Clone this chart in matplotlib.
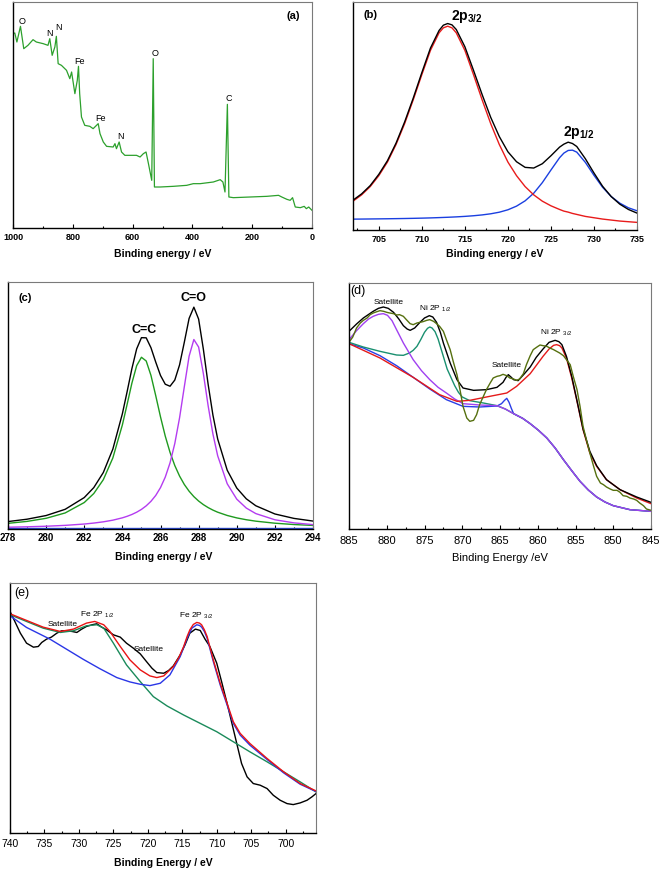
import matplotlib
matplotlib.use('Agg')
import matplotlib.pyplot as plt
from matplotlib.ticker import MultipleLocator

plt.rcParams['font.family'] = ['Liberation Sans', 'DejaVu Sans']
plt.rcParams['mathtext.fontset'] = 'custom'
plt.rcParams['mathtext.rm'] = 'Liberation Sans'
plt.rcParams['mathtext.bf'] = 'Liberation Sans:bold'

# ---------------------------------------------------------
# (a) survey spectrum
# ---------------------------------------------------------
survey_be = [1000, 994, 987, 975, 964, 950, 933, 922, 899, 883, 877, 869, 860, 855, 849,
             838, 821, 810, 804, 793, 785, 781, 777, 771, 760, 743, 732, 715, 709, 698,
             687, 665, 659, 654, 645, 637, 626, 603, 587, 575, 564, 555, 547, 536, 531,
             527, 508, 464, 419, 397, 374, 330, 307, 298, 291, 283, 278, 263, 207, 151,
             112, 101, 84, 73, 65, 56, 39, 26, 19, 11, 0]
survey_counts = [583, 585, 558, 605, 538, 548, 565, 558, 553, 548, 568, 518, 543, 575, 493,
                 488, 473, 448, 468, 403, 443, 485, 403, 333, 308, 305, 298, 313, 283, 258,
                 245, 243, 253, 238, 258, 228, 218, 218, 218, 213, 223, 228, 193, 143, 508,
                 123, 123, 125, 128, 133, 133, 138, 145, 138, 108, 371, 93, 91, 93, 95,
                 98, 93, 86, 83, 91, 63, 61, 65, 58, 63, 53]
survey_labels = ['O', 'N', 'N', 'Fe', 'Fe', 'N', 'O', 'C']
survey_label_be = [970, 877, 849, 777, 709, 642, 525, 280]
survey_label_y = [621, 585, 601, 498, 328, 275, 523, 388]

# ---------------------------------------------------------
# (b) Fe 2p fit
# ---------------------------------------------------------
fe_be = [702, 703, 704, 705, 706, 707, 708, 709, 710, 711, 712, 712.5, 713, 713.5, 714,
         715, 716, 717, 718, 719, 720, 721, 722, 723, 724, 725, 726, 726.5, 727, 727.5,
         728, 729, 730, 731, 732, 733, 734, 735]
fe_2p32 = [87, 106, 131, 164, 205, 258, 321, 393, 469, 542, 595, 610, 615, 610, 595, 542,
           469, 393, 321, 258, 205, 164, 131, 106, 87, 73, 62, 57, 54, 50, 47, 41, 37, 33,
           30, 27, 25, 23]
fe_2p12 = [32.8, 33.0, 33.3, 33.6, 33.9, 34.3, 34.7, 35.2, 35.8, 36.5, 37.4, 37.9, 38.4,
           39.0, 39.6, 41.1, 43.0, 45.5, 48.9, 53.7, 61, 72, 88, 111, 143, 181, 218, 232,
           240, 241, 235, 204, 165, 129, 101, 81, 67, 58]
fe_envelope = [90, 109, 134, 168, 209, 262, 326, 398, 475, 549, 602, 618, 623, 619, 605,
               553, 482, 409, 340, 282, 236, 206, 189, 187, 200, 224, 250, 259, 265, 261,
               252, 215, 172, 132, 101, 78, 62, 51]

# ---------------------------------------------------------
# (c) C 1s fit
# ---------------------------------------------------------
c_be = [278, 279, 280, 281, 282, 282.5, 283, 283.5, 284, 284.25, 284.5, 284.75, 285,
        285.25, 285.5, 285.75, 286, 286.25, 286.5, 286.75, 287, 287.25, 287.5, 287.75,
        288, 288.25, 288.5, 288.75, 289, 289.5, 290, 290.5, 291, 292, 293, 294]
c_cc = [17.0, 22.8, 32.1, 48.2, 79.4, 106.4, 147.9, 213.2, 312.3, 374.2, 437.7, 490,
        515.2, 504, 460.7, 400, 336.4, 278.6, 229.9, 190.4, 158.8, 133.5, 113.4, 97.1,
        83.9, 73.1, 64.2, 56.7, 50.4, 40.6, 33.3, 27.8, 23.5, 17.4, 13.4, 10.7]
c_co = [5.3, 6.6, 8.3, 10.9, 14.9, 17.8, 21.5, 26.5, 33.5, 38.1, 43.6, 50.4, 58.8, 69.5,
        83.1, 100.7, 124.2, 155.7, 198.4, 256.5, 333.5, 427, 518.3, 568.4, 545.8, 465.6,
        369.4, 285, 219.6, 135.7, 89.6, 62.8, 46.2, 27.7, 18.4, 13.1]
c_envelope = [22.3, 29.4, 40.4, 59.1, 94.3, 124.2, 169.4, 239.7, 345.8, 412.3, 481.3,
              540.4, 574, 573.5, 543.8, 500.7, 460.6, 434.3, 428.3, 446.9, 492.3, 560.5,
              631.7, 665.5, 629.7, 538.7, 433.6, 341.7, 270, 176.3, 122.9, 90.6, 69.7,
              45.1, 31.8, 23.8]
c_base_be = [278, 294]
c_base = [3, 3]

# ---------------------------------------------------------
# (d) Ni 2p
# ---------------------------------------------------------
ni_raw_be = [885, 884.5, 884.0, 883.5, 883.1, 882.6, 882.2, 881.8, 881.3, 880.9, 880.4,
             880.0, 879.6, 879.1, 878.7, 878.3, 877.8, 877.4, 876.9, 876.5, 876.0, 875.6,
             875.2, 874.7, 874.3, 873.8, 873.4, 873.0, 872.5, 872.1, 871.6, 871.2, 870.7,
             870.3, 869.9, 869.4, 869.0, 868.5, 868.1, 867.7, 867.2, 866.8, 866.3, 865.9,
             865.4, 865.0, 864.6, 864.1, 863.7, 863.2, 862.8, 862.4, 861.9, 861.5, 861.0,
             860.6, 860.1, 859.7, 859.3, 858.8, 858.4, 857.9, 857.5, 857.1, 856.6, 856.2,
             855.7, 855.3, 854.8, 854.4, 854.0, 853.5, 853.1, 852.6, 852.2, 851.7, 851.3,
             850.9, 850.4, 850.0, 849.5, 849.1, 848.7, 848.2, 847.8, 847.3, 846.9, 846.5,
             846.0, 845.6, 845.0]
ni_raw = [560, 576, 603, 618, 626, 633, 643, 648, 652, 655, 653, 650, 648, 646, 642, 643,
          638, 628, 616, 613, 618, 620, 622, 626, 628, 623, 616, 608, 593, 568, 538, 503,
          463, 418, 368, 333, 323, 326, 343, 373, 398, 418, 438, 453, 458, 460, 464, 460,
          453, 450, 446, 450, 466, 493, 520, 538, 546, 552, 550, 548, 543, 538, 533, 528,
          520, 508, 493, 458, 418, 368, 308, 263, 228, 188, 158, 138, 133, 126, 120, 116,
          116, 110, 100, 98, 93, 90, 86, 78, 70, 60, 56]
ni_env_be = [885, 884.0, 883.1, 881.8, 881.1, 880.45, 879.8, 879.1, 878.4, 877.8, 877.3,
             876.9, 876.3, 875.6, 875.0, 874.36, 873.9, 873.4, 872.9, 872.5, 871.6, 870.7,
             869.9, 868.5, 866.8, 865.4, 864.6, 864.2, 863.9, 863.5, 863.2, 862.6, 861.8,
             861.0, 860.2, 859.3, 858.5, 857.7, 857.2, 856.8, 856.2, 855.5, 854.85, 854.0,
             853.1, 852.2, 850.9, 849.1, 846.9, 845.0]
ni_env = [593, 615, 633, 653, 662, 666, 662, 650, 630, 610, 600, 596, 603, 620, 633, 640,
          636, 620, 590, 558, 498, 448, 423, 416, 418, 425, 440, 455, 463, 455, 448, 445,
          465, 486, 515, 540, 560, 566, 562, 553, 518, 458, 390, 300, 233, 190, 148, 118,
          96, 80]
ni_sat1_be = [885, 884.0, 883.1, 882.4, 881.8, 881.1, 880.45, 879.9, 879.3, 878.7, 877.8,
              876.5, 875.4, 874.3, 873.2, 872.1, 871.0, 869.9, 867.7, 865.4, 864.3, 863.2,
              862.0, 861.0, 859.9, 858.8, 857.7, 856.6, 855.5, 854.4, 853.3, 852.2, 851.1,
              850.0, 847.8, 845.0]
ni_sat1 = [568, 595, 616, 630, 638, 644, 646, 641, 625, 598, 558, 508, 475, 448, 425, 408,
           390, 376, 372, 370, 360, 346, 332, 316, 296, 273, 243, 208, 175, 143, 117, 96,
           81, 70, 58, 53]
ni_p12_be = [885, 883.1, 880.9, 878.7, 877.8, 877.0, 876.5, 876.0, 875.5, 875.0, 874.6,
             874.3, 874.0, 873.6, 873.2, 872.8, 872.4, 872.0, 871.5, 871.0, 870.5, 870.0,
             869.0, 867.2, 865.4, 864.3, 863.2, 862.0, 861.0, 859.9, 858.8, 857.7, 856.6,
             855.5, 854.4, 853.3, 852.2, 851.1, 850.0, 847.8, 845.0]
ni_p12 = [560, 546, 533, 522, 521, 528, 536, 548, 568, 590, 602, 606, 603, 592, 570, 540,
          510, 480, 455, 430, 410, 396, 385, 378, 370, 360, 346, 332, 316, 296, 273, 243,
          208, 175, 143, 117, 96, 81, 70, 58, 53]
ni_p32_be = [885, 880.9, 876.5, 873.0, 870.7, 869.0, 866.8, 864.1, 862.8, 861.0, 859.3,
             858.5, 857.9, 857.5, 857.1, 856.8, 856.2, 855.5, 854.85, 854.0, 853.1, 852.2,
             850.9, 849.1, 846.9, 845.0]
ni_p32 = [556, 513, 455, 403, 383, 386, 396, 408, 428, 466, 518, 540, 551, 553, 550, 543,
          513, 453, 388, 298, 228, 188, 148, 118, 93, 76]
ni_sat2_be = [885, 883.1, 880.9, 878.7, 876.5, 874.3, 872.1, 869.9, 867.7, 865.4, 864.8,
              864.4, 864.1, 863.8, 863.5, 863.2, 862.0, 861.0, 859.9, 858.8, 857.7, 856.6,
              855.5, 854.4, 853.3, 852.2, 851.1, 850.0, 847.8, 845.0]
ni_sat2 = [556, 543, 520, 490, 455, 420, 388, 368, 366, 369, 376, 386, 392, 380, 362, 346,
           332, 316, 296, 273, 243, 208, 175, 143, 117, 96, 81, 70, 58, 53]

# ---------------------------------------------------------
# (e) Fe 2p
# ---------------------------------------------------------
fe2_raw_be = [740, 739.3, 738.5, 737.6, 736.6, 735.9, 735.4, 734.7, 734.0, 733.2, 732.5,
              731.8, 731.0, 730.3, 729.6, 728.9, 728.1, 727.4, 726.7, 726.0, 725.0, 724.0,
              723.1, 722.1, 721.1, 720.2, 719.4, 718.7, 717.7, 717.0, 716.3, 715.3, 714.6,
              713.9, 713.1, 712.4, 711.7, 711.0, 710.0, 709.3, 708.5, 707.8, 707.1, 706.4,
              705.6, 704.7, 703.7, 702.7, 701.8, 700.8, 699.8, 698.9, 697.9, 696.9, 696.2,
              695.6]
fe2_raw = [663, 633, 598, 568, 556, 558, 570, 580, 586, 598, 605, 605, 603, 600, 610, 618,
           623, 626, 616, 608, 593, 586, 568, 553, 536, 513, 493, 480, 478, 486, 500, 533,
           563, 598, 610, 606, 580, 558, 508, 453, 388, 328, 268, 208, 168, 148, 143, 133,
           113, 98, 88, 85, 90, 98, 108, 118]
fe2_env_be = [740, 737.6, 735.2, 732.7, 730.8, 728.9, 727.7, 726.4, 725.5, 724.0, 722.6,
              721.1, 719.7, 718.7, 717.7, 716.3, 715.5, 714.8, 714.3, 713.9, 713.4, 712.9,
              712.5, 712.2, 711.8, 711.4, 710.5, 709.5, 708.5, 707.6, 706.6, 705.2, 702.7,
              700.3, 697.9, 695.6]
fe2_env = [656, 636, 616, 603, 610, 628, 633, 623, 603, 558, 518, 488, 470, 465, 470, 498,
           525, 558, 588, 608, 624, 630, 628, 623, 608, 588, 518, 448, 388, 333, 298, 268,
           223, 183, 148, 126]
fe2_p32_be = [740, 737.6, 734.2, 731.8, 729.4, 727.0, 724.5, 722.6, 721.1, 719.7, 718.2,
              716.8, 715.3, 714.3, 713.6, 712.9, 712.5, 712.2, 711.8, 711.4, 710.5, 709.5,
              708.5, 707.6, 706.6, 705.2, 702.7, 700.3, 697.9, 695.6]
fe2_p32 = [650, 615, 580, 550, 520, 492, 465, 452, 445, 441, 448, 473, 528, 583, 613, 623,
           621, 616, 603, 583, 513, 443, 383, 328, 293, 263, 220, 180, 146, 124]
fe2_p12_be = [740, 737.6, 735.2, 732.7, 730.8, 728.9, 727.4, 726.4, 725.0, 723.1, 721.1,
              719.2, 717.2, 714.8, 712.4, 710.0, 707.6, 705.2, 702.7, 700.3, 697.9, 695.6]
fe2_p12 = [653, 633, 613, 600, 605, 620, 623, 613, 568, 503, 453, 408, 380, 353, 328, 303,
           273, 243, 213, 183, 153, 123]

W, H = 661, 871


def add_axes(fig, left, top, right, bottom):
    return fig.add_axes([left / W, 1 - bottom / H, (right - left) / W, (bottom - top) / H])


def style_axis(ax, xlim, ymax, major, minor, labelsize, bold, pad):
    ax.set_xlim(*xlim)
    ax.set_ylim(0, ymax)
    ax.xaxis.set_major_locator(MultipleLocator(major))
    ax.xaxis.set_minor_locator(MultipleLocator(minor))
    ax.tick_params(axis='x', which='both', direction='in', top=False,
                   labelsize=labelsize, pad=pad, width=0.8)
    ax.tick_params(axis='x', which='major', length=3)
    ax.tick_params(axis='x', which='minor', length=1.8)
    ax.tick_params(axis='y', left=False, labelleft=False)
    if bold:
        plt.setp(ax.get_xticklabels(), fontweight='bold')
    for side in ['left', 'bottom']:
        ax.spines[side].set_color('black')
        ax.spines[side].set_linewidth(1.0)
    for side in ['top', 'right']:
        ax.spines[side].set_color('#7a7a7a')
        ax.spines[side].set_linewidth(0.8)


def run():
    fig = plt.figure(figsize=(6.61, 8.71), dpi=100)

    # (a)
    ax = add_axes(fig, 13, 2, 312, 228)
    ax.plot(survey_be, survey_counts, color='#2ca02c', lw=0.9)
    style_axis(ax, (1000, 0), 678, 200, 100, 6.5, True, 3.5)
    for lab, x, y in zip(survey_labels, survey_label_be, survey_label_y):
        ax.text(x, y, lab, ha='center', va='center', fontsize=6.5)
    ax.text(0.96, 0.94, '(a)', transform=ax.transAxes, ha='right', va='center',
            fontsize=8, fontweight='bold')
    fig.text(162.5 / W, 1 - 254 / H, 'Binding energy / eV', ha='center', va='center',
             fontsize=7.5, fontweight='bold')

    # (b)
    ax = add_axes(fig, 353, 2, 637, 230)
    ax.plot(fe_be, fe_2p12, color='#1a3fe0', lw=1.0)
    ax.plot(fe_be, fe_2p32, color='#e81b1b', lw=1.0)
    ax.plot(fe_be, fe_envelope, color='black', lw=1.0)
    style_axis(ax, (702, 735), 688, 5, 2.5, 6.5, True, 3.5)
    ax.text(703.2, 648, '(b)', ha='left', va='center', fontsize=8, fontweight='bold')
    ax.text(715.2, 645, r'2p$_{\mathbf{3/2}}$', ha='center', va='center', fontsize=10,
            fontweight='bold')
    ax.text(728.2, 295, r'2p$_{\mathbf{1/2}}$', ha='center', va='center', fontsize=10,
            fontweight='bold')
    fig.text(495 / W, 1 - 254 / H, 'Binding energy / eV', ha='center', va='center',
             fontsize=7.5, fontweight='bold')

    # (c)
    ax = add_axes(fig, 8, 282, 313, 529)
    ax.plot(c_base_be, c_base, color='#2b4bd8', lw=1.0)
    ax.plot(c_be, c_cc, color='#1f9a1f', lw=1.0)
    ax.plot(c_be, c_co, color='#b43cf0', lw=1.0)
    ax.plot(c_be, c_envelope, color='black', lw=1.0)
    style_axis(ax, (278, 294), 741, 2, 1, 7, True, 3)
    ax.text(278.9, 693, '(c)', ha='center', va='center', fontsize=8, fontweight='bold')
    ax.text(285.13, 596, 'C=C', ha='center', va='center', fontsize=9, fontweight='bold')
    ax.text(287.73, 693, 'C=O', ha='center', va='center', fontsize=9, fontweight='bold')
    fig.text(164 / W, 1 - 557 / H, 'Binding energy / eV', ha='center', va='center',
             fontsize=7.5, fontweight='bold')

    # (d)
    ax = add_axes(fig, 349, 283, 651, 529)
    ax.plot(ni_sat2_be, ni_sat2, color='#2a3ee6', lw=1.0)
    ax.plot(ni_p12_be, ni_p12, color='#1a9070', lw=1.0)
    ax.plot(ni_sat1_be, ni_sat1, color='#a040f0', lw=1.0)
    ax.plot(ni_p32_be, ni_p32, color='#e41a1a', lw=1.0)
    ax.plot(ni_env_be, ni_env, color='black', lw=1.0)
    ax.plot(ni_raw_be, ni_raw, color='#56700f', lw=1.0)
    style_axis(ax, (885, 845), 738, 5, 2.5, 8, False, 5)
    ax.text(883.8, 713, '(d)', ha='center', va='center', fontsize=9)
    ax.text(879.8, 680, 'Satellite', ha='center', va='center', fontsize=6)
    ax.text(873.5, 660, r'Ni 2P $_{1/2}$', ha='center', va='center', fontsize=6)
    ax.text(864.1, 490, 'Satellite', ha='center', va='center', fontsize=6)
    ax.text(857.5, 590, r'Ni 2P $_{3/2}$', ha='center', va='center', fontsize=6)
    fig.text(500 / W, 1 - 558 / H, 'Binding Energy /eV', ha='center', va='center',
             fontsize=8)

    # (e)
    ax = add_axes(fig, 10, 583, 316, 833)
    ax.plot(fe2_raw_be, fe2_raw, color='black', lw=1.0)
    ax.plot(fe2_p12_be, fe2_p12, color='#1a8a5a', lw=1.0)
    ax.plot(fe2_p32_be, fe2_p32, color='#2a36e6', lw=1.0)
    ax.plot(fe2_env_be, fe2_env, color='#e81414', lw=1.0)
    style_axis(ax, (740, 695.6), 748, 5, 2.5, 7.5, False, 4)
    ax.text(738.3, 718, '(e)', ha='center', va='center', fontsize=9)
    ax.text(732.3, 623, 'Satellite', ha='center', va='center', fontsize=6)
    ax.text(727.4, 653, r'Fe 2P $_{1/2}$', ha='center', va='center', fontsize=6)
    ax.text(719.9, 550, 'Satellite', ha='center', va='center', fontsize=6)
    ax.text(712.9, 650, r'Fe 2P $_{3/2}$', ha='center', va='center', fontsize=6)
    fig.text(163 / W, 1 - 863 / H, 'Binding Energy / eV', ha='center', va='center',
             fontsize=7.5, fontweight='bold')

    fig.savefig('out.png', dpi=100)
    plt.close(fig)


if __name__ == "__main__":
    run()
